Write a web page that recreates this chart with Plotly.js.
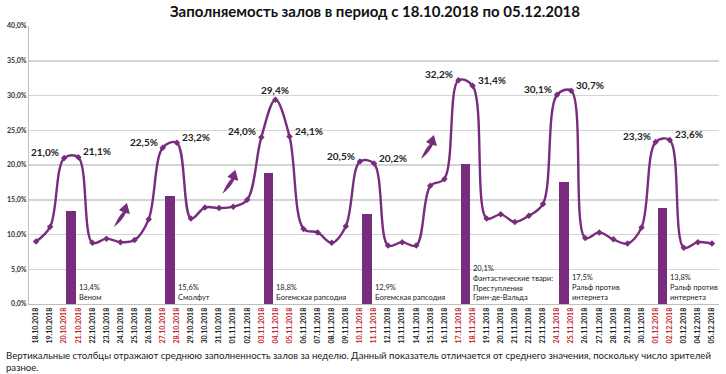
<!DOCTYPE html>
<html>
<head>
<meta charset="utf-8">
<script src="https://cdn.plot.ly/plotly-3.0.1.min.js"></script>
<style>html,body{margin:0;padding:0;background:#fff;}#chart{width:726px;height:374px;}</style>
</head>
<body>
<div id="chart"></div>
<script>
const dates = ['18.10.2018','19.10.2018','20.10.2018','21.10.2018','22.10.2018','23.10.2018','24.10.2018','25.10.2018','26.10.2018','27.10.2018','28.10.2018','29.10.2018','30.10.2018','31.10.2018','01.11.2018','02.11.2018','03.11.2018','04.11.2018','05.11.2018','06.11.2018','07.11.2018','08.11.2018','09.11.2018','10.11.2018','11.11.2018','12.11.2018','13.11.2018','14.11.2018','15.11.2018','16.11.2018','17.11.2018','18.11.2018','19.11.2018','20.11.2018','21.11.2018','22.11.2018','23.11.2018','24.11.2018','25.11.2018','26.11.2018','27.11.2018','28.11.2018','29.11.2018','30.11.2018','01.12.2018','02.12.2018','03.12.2018','04.12.2018','05.12.2018'];
const occupancy = [9.0,11.1,21.0,21.1,8.8,9.4,8.9,9.2,12.2,22.5,23.2,12.3,13.9,13.8,14.0,15.0,24.0,29.4,24.1,10.8,10.3,8.8,11.2,20.5,20.2,8.4,8.9,8.4,17.0,18.0,32.2,31.4,12.3,12.9,11.8,12.7,14.4,30.1,30.7,9.5,10.3,9.3,8.7,11.0,23.3,23.6,8.1,8.9,8.7];
const redDates = ['20.10.2018','21.10.2018','27.10.2018','28.10.2018','03.11.2018','04.11.2018','05.11.2018','10.11.2018','11.11.2018','17.11.2018','18.11.2018','24.11.2018','25.11.2018','01.12.2018','02.12.2018'];
const labelSide = {'20.10.2018':'l','21.10.2018':'r','27.10.2018':'l','28.10.2018':'r','03.11.2018':'l','04.11.2018':'c','05.11.2018':'r','10.11.2018':'l','11.11.2018':'r','17.11.2018':'l','18.11.2018':'r','24.11.2018':'l','25.11.2018':'r','01.12.2018':'l','02.12.2018':'r'};
const weekStart = ['20.10.2018','27.10.2018','03.11.2018','10.11.2018','17.11.2018','24.11.2018','01.12.2018'];
const weekAvg = [13.4,15.6,18.8,12.9,20.1,17.5,13.8];
const films = ['Веном','Смолфут','Богемская рапсодия','Богемская рапсодия','Фантастические твари:<br>Преступления<br>Грин-де-Вальда','Ральф против<br>интернета','Ральф против<br>интернета'];
const yTicks = [0,5,10,15,20,25,30,35,40];

const PURPLE = '#782c7d';
const BARW = 0.68;
const fmt = v => v.toFixed(1).replace('.', ',') + '%';
const idx = dates.map((d, i) => i);
const barX = weekStart.map(d => dates.indexOf(d) + 0.5);

const traces = [
  {type:'bar', x: barX, y: weekAvg, width: BARW, marker:{color: PURPLE}, hoverinfo:'skip'},
  {type:'scatter', mode:'lines+markers', x: idx, y: occupancy,
   line:{color: PURPLE, width: 2.4, shape:'spline', smoothing: 1},
   marker:{symbol:'diamond', size:5, color: PURPLE}, hoverinfo:'skip'}
];

const annotations = [];
dates.forEach((d, i) => {
  const s = labelSide[d];
  if (!s) return;
  annotations.push({
    x: i, y: occupancy[i], xref:'x', yref:'y', text: fmt(occupancy[i]), showarrow:false,
    xanchor: s==='l' ? 'right' : (s==='r' ? 'left' : 'center'),
    yanchor:'middle',
    xshift: s==='l' ? -3 : (s==='r' ? 3 : 0),
    yshift: s==='c' ? 10 : 6,
    font:{family:'Lato, sans-serif', size:10, color:'#222', weight:'bold'}
  });
});
weekStart.forEach((d, k) => {
  annotations.push({
    x: barX[k] + BARW/2, y: 0, xref:'x', yref:'y', text: fmt(weekAvg[k]) + '<br>' + films[k],
    showarrow:false, xanchor:'left', yanchor:'bottom', align:'left', xshift: 1, yshift: 0,
    font:{family:'Lato, sans-serif', size:7.5, color:'#222'}
  });
});
// footer
annotations.push({
  xref:'paper', yref:'paper', x: (4-29)/690, y: (304-348)/278, xanchor:'left', yanchor:'top', align:'left',
  showarrow:false,
  text:'Вертикальные столбцы отражают среднюю заполненность залов за неделю. Данный показатель отличается от среднего значения, поскольку число зрителей<br>разное.',
  font:{family:'Lato, sans-serif', size:9.6, color:'#222'}
});

const arrowPath = 'M -8,-12 Q -4,-2 1,3 L -3,5 L 5,12 L 8,1 L 4,2 Q 0,-6 -8,-12 Z';
const arrowAt = [[6.1,12.8],[13.8,17.6],[27.9,22.6]];
const shapes = arrowAt.map(a => ({
  type:'path', xref:'x', yref:'y', xsizemode:'pixel', ysizemode:'pixel',
  xanchor:a[0], yanchor:a[1], path: arrowPath,
  fillcolor: PURPLE, line:{width:0}
}));

const layout = {
  width:726, height:374,
  margin:{l:29, r:7, t:26, b:70},
  paper_bgcolor:'#fff', plot_bgcolor:'#fff',
  showlegend:false,
  title:{text:'<b>Заполняемость залов в период с 18.10.2018 по 05.12.2018</b>', x:375/726, xanchor:'center', y:1-12/374, yanchor:'middle', yref:'container',
         font:{family:'Lato, sans-serif', size:15, color:'#111'}},
  xaxis:{type:'linear', range:[-0.5,48.5], tickmode:'array', tickvals: idx,
         ticktext: dates.map(d => redDates.includes(d) ? '<span style="color:#c0272d">'+d+'</span>' : d),
         tickangle:-90, tickfont:{family:'Lato, sans-serif', size:7, color:'#222', weight:'bold'},
         showgrid:false, zeroline:false, showline:true, linecolor:'#bfbfbf', linewidth:1, ticks:'', fixedrange:true},
  yaxis:{range:[0,40], tickmode:'array', tickvals: yTicks, ticktext: yTicks.map(fmt),
         tickfont:{family:'Lato, sans-serif', size:7, color:'#333', weight:'bold'},
         showgrid:true, gridcolor:'#d4d4d4', gridwidth:1.5, zeroline:false, showline:true, linecolor:'#bfbfbf', linewidth:1, ticks:'', fixedrange:true},
  annotations, shapes,
  bargap:0
};
Plotly.newPlot('chart', traces, layout, {staticPlot:true});
</script>
</body>
</html>
